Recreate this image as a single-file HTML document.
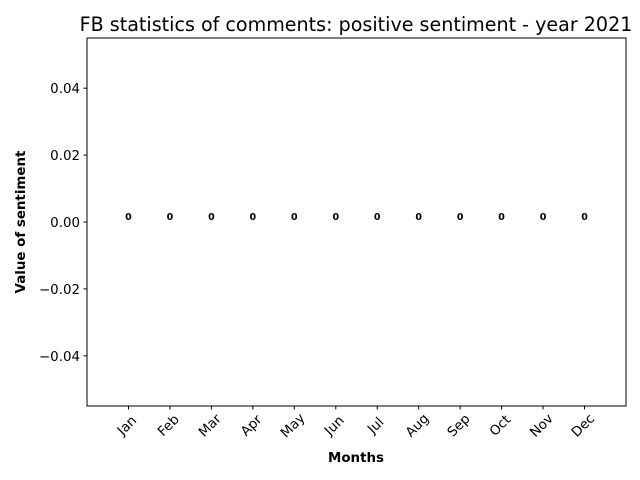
<!DOCTYPE html>
<html><head><meta charset="utf-8"><style>
body{margin:0;background:#fff}
svg{display:block;font-family:"DejaVu Sans","Liberation Sans",sans-serif}
</style></head><body>
<svg id="chart" width="640" height="480" viewBox="0 0 640 480">
<rect width="640" height="480" fill="#fff"/>
<text x="356" y="31" text-anchor="middle" font-size="19.1" fill="#000">FB statistics of comments: positive sentiment - year 2021</text>
<g id="plot"></g>
<rect x="87" y="38" width="539" height="368" fill="none" stroke="#000" stroke-width="1"/>
<text x="356" y="462" text-anchor="middle" font-size="13.4" font-weight="bold">Months</text>
<text transform="translate(25,222) rotate(-90)" text-anchor="middle" font-size="13.4" font-weight="bold">Value of sentiment</text>
</svg>
<script>
const months = ["Jan","Feb","Mar","Apr","May","Jun","Jul","Aug","Sep","Oct","Nov","Dec"];
const values = [0,0,0,0,0,0,0,0,0,0,0,0];
const yTicks = [-0.04,-0.02,0,0.02,0.04];
const yTickLabels = ["\u22120.04","\u22120.02","0.00","0.02","0.04"];

const NS="http://www.w3.org/2000/svg";
const L=87,R=626,T=38,B=406;
const yMin=-0.055,yMax=0.055;
const xs=i=>L+(i+1)*(R-L)/(months.length+1);
const ys=v=>B-(v-yMin)/(yMax-yMin)*(B-T);
const g=document.getElementById('plot');
function mk(tag,attrs,txt){const e=document.createElementNS(NS,tag);for(const k in attrs)e.setAttribute(k,attrs[k]);if(txt!==undefined)e.textContent=txt;g.appendChild(e);return e;}

yTicks.forEach((t,i)=>{
  const y=ys(t);
  const tk=mk('line',{x1:L-3.5,x2:L,y1:y,y2:y,stroke:'#000','stroke-width':1});
  
  
  const lb=mk('text',{x:L-7,y:y+5,'text-anchor':'end','font-size':13.4},yTickLabels[i]);
  
  
});
months.forEach((m,i)=>{
  const x=xs(i);
  const tk=mk('line',{x1:x,x2:x,y1:B,y2:B+3.5,stroke:'#000','stroke-width':1});
  
  
  const lb=mk('text',{x:x-2,y:430,'text-anchor':'middle','font-size':13.4,transform:`rotate(-45 ${x-2} 425)`},m);
  
  
  const h=ys(0)-ys(values[i]);
  const bar=mk('rect',{x:x-16.5,y:Math.min(ys(0),ys(values[i])),width:33,height:Math.abs(h),fill:'#1f77b4'});
  
  
  const vl=mk('text',{x:x,y:ys(values[i])-2,'text-anchor':'middle','font-size':9.5,'font-weight':'bold'},String(values[i]));
  
  
});
</script>
</body></html>
